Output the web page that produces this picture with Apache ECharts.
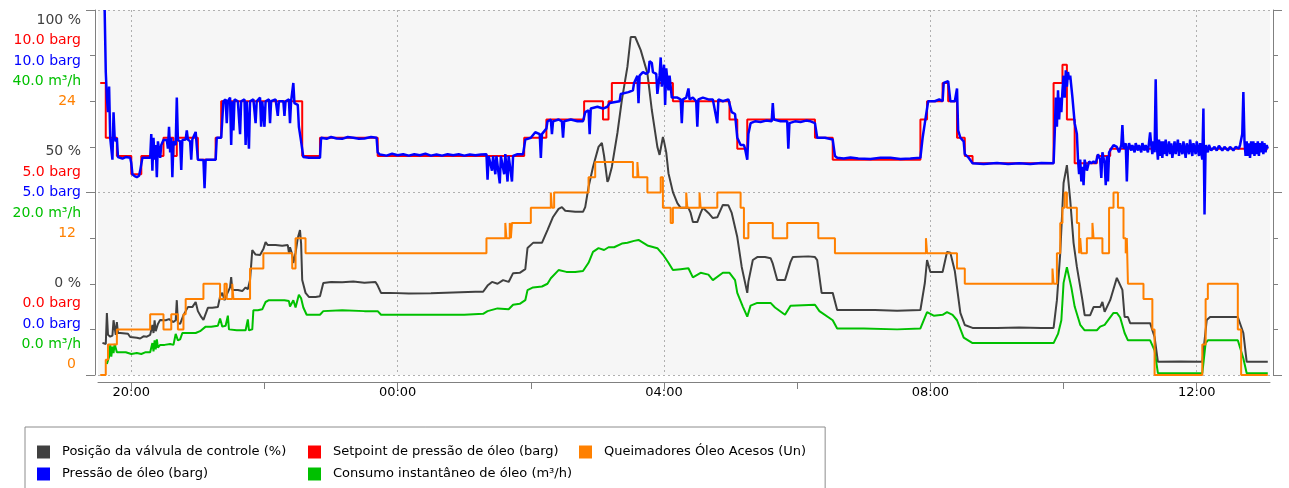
<!DOCTYPE html>
<html>
<head>
<meta charset="utf-8">
<script src="https://cdn.jsdelivr.net/npm/echarts@6/dist/echarts.min.js"></script>
<style>
  html, body { margin: 0; padding: 0; background: #ffffff; }
  #chart { width: 1289px; height: 488px; }
</style>
</head>
<body>
<div id="chart"></div>
<script>
// ---- Series names ----
const nameValve = 'Posição da válvula de controle (%)';
const nameSetpoint = 'Setpoint de pressão de óleo (barg)';
const nameBurners = 'Queimadores Óleo Acesos (Un)';
const namePressure = 'Pressão de óleo (barg)';
const nameFlow = 'Consumo instantâneo de óleo (m³/h)';

// ---- Scales of the five stacked value axes (valve, setpoint, pressure, flow, burners) ----
const scaleMax = [100, 10, 10, 40, 24];
const scaleUnit = [' %', ' barg', ' barg', ' m³/h', ''];
const scaleDigits = [0, 1, 1, 1, 0];

// ---- Time axis ----
const timeStart = '19:30';
const timeEnd = '13:06';
const timeLabels = ['20:00', '00:00', '04:00', '08:00', '12:00'];
const timeTicks = ['20:00', '22:00', '00:00', '02:00', '04:00', '06:00', '08:00', '10:00', '12:00'];

// ---- Posição da válvula de controle (%) ----
const valvePosition = [
  ['19:34', 8.8], ['19:37', 8.5], ['19:38', 17.0], ['19:39', 11.0], ['19:41', 10.5], ['19:43', 10.8],
  ['19:44', 15.0], ['19:46', 11.0], ['19:47', 14.5], ['19:48', 11.5], ['19:50', 11.5], ['19:57', 11.3],
  ['19:59', 10.4], ['20:05', 10.2], ['20:08', 10.0], ['20:11', 10.6], ['20:14', 10.5], ['20:17', 11.0],
  ['20:19', 13.7], ['20:20', 11.5], ['20:21', 15.0], ['20:22', 12.0], ['20:24', 14.0], ['20:26', 15.1],
  ['20:31', 15.0], ['20:34', 15.3], ['20:38', 14.5], ['20:40', 15.0], ['20:41', 20.5], ['20:42', 14.2],
  ['20:44', 14.0], ['20:47', 16.4], ['20:51', 18.6], ['20:55', 18.6], ['20:58', 20.0], ['21:00', 17.5],
  ['21:03', 15.9], ['21:05', 15.1], ['21:09', 18.4], ['21:13', 18.4], ['21:18', 18.6], ['21:20', 21.5],
  ['21:22', 22.5], ['21:24', 20.5], ['21:26', 22.0], ['21:29', 24.0], ['21:30', 26.8], ['21:31', 23.3],
  ['21:36', 23.3], ['21:40', 23.0], ['21:43', 24.0], ['21:45', 23.5], ['21:47', 26.0], ['21:49', 34.2],
  ['21:52', 33.0], ['21:56', 32.9], ['21:59', 34.5], ['22:01', 36.4], ['22:03', 35.6], ['22:10', 35.6],
  ['22:16', 35.4], ['22:21', 35.6], ['22:22', 33.5], ['22:23', 35.0], ['22:25', 33.0], ['22:26', 30.7],
  ['22:28', 33.5], ['22:30', 37.5], ['22:32', 39.7], ['22:33', 36.0], ['22:34', 26.0], ['22:37', 22.5],
  ['22:40', 21.4], ['22:46', 21.4], ['22:50', 21.6], ['22:53', 25.2], ['23:00', 25.5], ['23:10', 25.4],
  ['23:20', 25.6], ['23:30', 25.3], ['23:40', 25.5], ['23:42', 24.5], ['23:45', 22.5], ['23:53', 22.5],
  ['00:10', 22.3], ['00:30', 22.4], ['00:50', 22.6], ['01:10', 22.8], ['01:17', 22.8], ['01:21', 24.5],
  ['01:25', 25.5], ['01:30', 25.0], ['01:35', 26.0], ['01:40', 25.5], ['01:44', 27.9], ['01:50', 28.0],
  ['01:55', 29.0], ['01:57', 34.8], ['02:02', 36.2], ['02:10', 36.2], ['02:14', 39.0], ['02:15', 39.7],
  ['02:20', 43.3], ['02:25', 45.5], ['02:28', 46.0], ['02:31', 45.0], ['02:40', 44.7], ['02:47', 44.7],
  ['02:49', 46.0], ['02:52', 51.5], ['02:56', 57.0], ['03:01', 62.5], ['03:04', 63.6], ['03:06', 60.0],
  ['03:09', 52.9], ['03:10', 53.5], ['03:13', 57.0], ['03:18', 66.3], ['03:22', 75.3], ['03:27', 84.4],
  ['03:30', 92.6], ['03:34', 92.6], ['03:39', 89.0], ['03:45', 82.7], ['03:49', 72.6], ['03:54', 62.5],
  ['03:56', 60.3], ['03:59', 65.2], ['04:00', 64.0], ['04:02', 61.0], ['04:04', 55.3], ['04:08', 50.1],
  ['04:12', 47.1], ['04:15', 45.8], ['04:19', 45.8], ['04:22', 45.8], ['04:24', 44.4], ['04:26', 41.9],
  ['04:30', 41.9], ['04:33', 44.4], ['04:35', 45.8], ['04:40', 44.4], ['04:44', 43.0], ['04:48', 43.2],
  ['04:53', 46.6], ['04:58', 46.5], ['05:01', 44.4], ['05:06', 37.8], ['05:10', 29.6], ['05:15', 22.5],
  ['05:16', 25.5], ['05:20', 31.5], ['05:24', 32.3], ['05:31', 32.3], ['05:36', 32.0], ['05:38', 30.5],
  ['05:42', 26.0], ['05:49', 26.0], ['05:54', 31.0], ['05:56', 32.3], ['06:10', 32.5], ['06:16', 32.3],
  ['06:18', 31.5], ['06:22', 22.5], ['06:32', 22.5], ['06:36', 17.8], ['06:50', 17.8], ['07:10', 17.8],
  ['07:30', 17.6], ['07:51', 17.8], ['07:55', 25.2], ['07:57', 31.5], ['08:00', 28.2], ['08:11', 28.2],
  ['08:15', 33.7], ['08:18', 33.5], ['08:22', 28.5], ['08:27', 17.0], ['08:31', 13.7], ['08:38', 12.9],
  ['09:00', 12.9], ['09:20', 13.0], ['09:40', 12.9], ['09:51', 12.9], ['09:54', 20.5], ['09:57', 33.4],
  ['10:00', 52.6], ['10:03', 57.5], ['10:06', 47.9], ['10:09', 36.2], ['10:12', 29.6], ['10:17', 20.5],
  ['10:19', 16.4], ['10:24', 16.4], ['10:27', 18.6], ['10:33', 18.6], ['10:35', 20.0], ['10:37', 17.3],
  ['10:42', 20.5], ['10:48', 26.6], ['10:53', 23.3], ['10:55', 15.9], ['10:58', 15.9], ['11:00', 14.2],
  ['11:18', 14.2], ['11:22', 10.4], ['11:25', 3.6], ['11:45', 3.7], ['12:05', 3.6], ['12:09', 15.1],
  ['12:12', 15.9], ['12:37', 15.9], ['12:42', 11.5], ['12:45', 3.6], ['13:04', 3.6]
];

// ---- Setpoint de pressão de óleo (barg), stepwise ----
const pressureSetpoint = [
  ['19:32', 8.0], ['19:37', 6.5], ['19:47', 6.0], ['20:00', 5.5], ['20:09', 6.0], ['20:29', 6.5],
  ['20:38', 6.0], ['20:41', 6.5], ['21:00', 5.9], ['21:16', 6.5], ['21:21', 7.5], ['22:34', 6.0],
  ['22:50', 6.5], ['23:42', 6.0], ['01:54', 6.5], ['02:14', 7.0], ['02:48', 7.5], ['03:05', 7.0],
  ['03:10', 7.5], ['03:13', 8.0], ['04:08', 7.5], ['04:59', 7.0], ['05:06', 6.2], ['05:15', 7.0],
  ['06:16', 6.5], ['06:32', 5.9], ['07:51', 7.0], ['07:57', 7.5], ['08:11', 8.0], ['08:16', 7.5],
  ['08:24', 6.5], ['08:31', 6.0], ['08:38', 5.8], ['09:51', 8.0], ['09:59', 8.5], ['10:03', 7.0],
  ['10:10', 5.8], ['10:30', 6.0], ['10:42', 6.2], ['13:04', 6.2]
];

// ---- Pressão de óleo (barg) ----
const oilPressure = [
  ['19:36', 10.0], ['19:37', 8.3], ['19:38', 7.6], ['19:39', 7.2], ['19:40', 7.9], ['19:41', 6.5],
  ['19:42', 6.5], ['19:43', 5.9], ['19:44', 7.2], ['19:45', 6.5], ['19:46', 6.4], ['19:47', 6.5],
  ['19:48', 5.97], ['19:52', 5.93], ['19:55', 5.97], ['19:59', 5.95], ['20:00', 5.8], ['20:01', 5.5],
  ['20:03', 5.45], ['20:05', 5.42], ['20:07', 5.46], ['20:08', 5.6], ['20:10', 5.95], ['20:17', 5.95],
  ['20:18', 6.6], ['20:19', 5.6], ['20:20', 6.5], ['20:21', 5.9], ['20:22', 6.3], ['20:23', 5.42],
  ['20:24', 6.4], ['20:26', 5.95], ['20:27', 6.3], ['20:29', 6.44], ['20:32', 6.44], ['20:33', 6.2],
  ['20:34', 6.8], ['20:35', 6.1], ['20:36', 6.5], ['20:37', 5.42], ['20:38', 6.4], ['20:40', 6.3],
  ['20:41', 7.6], ['20:42', 6.44], ['20:44', 6.4], ['20:45', 5.62], ['20:46', 6.44], ['20:49', 6.45],
  ['20:50', 6.7], ['20:51', 6.45], ['20:53', 6.4], ['20:54', 5.9], ['20:55', 6.45], ['20:58', 6.66],
  ['21:00', 5.9], ['21:05', 5.89], ['21:06', 5.12], ['21:07', 5.9], ['21:16', 5.9], ['21:17', 6.5],
  ['21:21', 6.5], ['21:22', 7.0], ['21:23', 7.5], ['21:25', 7.55], ['21:26', 6.9], ['21:27', 7.5],
  ['21:29', 7.6], ['21:30', 6.3], ['21:31', 7.5], ['21:32', 6.7], ['21:33', 7.55], ['21:36', 7.5],
  ['21:38', 6.6], ['21:39', 7.5], ['21:42', 7.55], ['21:43', 6.3], ['21:44', 7.5], ['21:46', 6.2],
  ['21:47', 7.5], ['21:50', 7.55], ['21:52', 6.9], ['21:53', 7.5], ['21:56', 7.6], ['21:57', 6.8],
  ['21:58', 7.5], ['22:00', 6.8], ['22:01', 7.5], ['22:04', 7.55], ['22:05', 6.9], ['22:06', 7.5],
  ['22:10', 7.55], ['22:12', 7.1], ['22:13', 7.5], ['22:17', 7.5], ['22:18', 7.1], ['22:19', 7.5],
  ['22:22', 7.55], ['22:23', 6.9], ['22:24', 7.5], ['22:25', 7.55], ['22:26', 8.0], ['22:27', 7.45],
  ['22:30', 7.4], ['22:31', 6.8], ['22:33', 6.4], ['22:35', 5.97], ['22:40', 5.95], ['22:50', 5.95],
  ['22:51', 6.5], ['22:56', 6.47], ['23:00', 6.52], ['23:05', 6.48], ['23:10', 6.47], ['23:15', 6.52],
  ['23:20', 6.5], ['23:25', 6.47], ['23:30', 6.48], ['23:36', 6.52], ['23:41', 6.5], ['23:42', 6.1],
  ['23:44', 6.04], ['23:50', 6.01], ['23:55', 6.06], ['00:00', 6.02], ['00:05', 6.05], ['00:10', 6.01],
  ['00:15', 6.05], ['00:20', 6.02], ['00:25', 6.06], ['00:30', 6.01], ['00:35', 6.04], ['00:40', 6.01],
  ['00:45', 6.05], ['00:50', 6.02], ['00:55', 6.05], ['01:00', 6.01], ['01:05', 6.04], ['01:10', 6.02],
  ['01:15', 6.04], ['01:20', 6.05], ['01:21', 5.35], ['01:22', 6.0], ['01:25', 5.6], ['01:26', 6.0],
  ['01:28', 5.5], ['01:29', 6.0], ['01:32', 5.25], ['01:33', 6.0], ['01:36', 5.5], ['01:37', 6.05],
  ['01:39', 5.3], ['01:40', 6.0], ['01:43', 5.3], ['01:44', 6.0], ['01:48', 6.05], ['01:53', 6.05],
  ['01:55', 6.45], ['02:00', 6.5], ['02:04', 6.65], ['02:08', 6.6], ['02:09', 5.95], ['02:10', 6.6],
  ['02:14', 6.75], ['02:15', 6.95], ['02:18', 7.0], ['02:19', 6.6], ['02:20', 6.95], ['02:25', 7.0],
  ['02:28', 6.95], ['02:29', 6.5], ['02:30', 6.95], ['02:36', 7.0], ['02:42', 6.95], ['02:47', 6.95],
  ['02:49', 7.2], ['02:52', 7.25], ['02:53', 6.6], ['02:54', 7.3], ['03:00', 7.35], ['03:05', 7.3],
  ['03:09', 7.35], ['03:11', 7.45], ['03:20', 7.5], ['03:21', 7.7], ['03:28', 7.75], ['03:32', 7.8],
  ['03:33', 8.0], ['03:36', 8.2], ['03:37', 7.45], ['03:38', 8.2], ['03:41', 8.3], ['03:44', 8.25],
  ['03:46', 8.3], ['03:47', 8.6], ['03:49', 8.55], ['03:50', 8.3], ['03:53', 8.25], ['03:54', 7.7],
  ['03:56', 8.2], ['03:57', 8.7], ['03:58', 7.9], ['04:00', 8.5], ['04:01', 7.4], ['04:02', 8.4],
  ['04:04', 7.8], ['04:05', 8.2], ['04:07', 7.6], ['04:08', 7.6], ['04:12', 7.6], ['04:15', 7.55],
  ['04:16', 6.9], ['04:17', 7.55], ['04:20', 7.6], ['04:22', 7.85], ['04:23', 7.55], ['04:26', 7.6],
  ['04:29', 7.5], ['04:30', 6.8], ['04:31', 7.55], ['04:35', 7.6], ['04:40', 7.55], ['04:44', 7.55],
  ['04:48', 6.9], ['04:49', 7.55], ['04:53', 7.5], ['04:58', 7.55], ['05:01', 7.2], ['05:04', 7.15],
  ['05:06', 6.5], ['05:09', 6.3], ['05:12', 6.3], ['05:13', 6.2], ['05:15', 5.9], ['05:16', 6.6],
  ['05:18', 6.9], ['05:22', 6.95], ['05:27', 6.93], ['05:32', 6.97], ['05:37', 6.95], ['05:38', 7.45],
  ['05:39', 7.0], ['05:45', 6.95], ['05:51', 6.95], ['05:52', 6.2], ['05:53', 6.9], ['05:58', 6.95],
  ['06:03', 6.93], ['06:08', 6.97], ['06:12', 6.95], ['06:16', 6.9], ['06:18', 6.5], ['06:25', 6.5],
  ['06:32', 6.45], ['06:34', 6.0], ['06:36', 5.95], ['06:42', 5.93], ['06:48', 5.96], ['06:55', 5.93],
  ['07:06', 5.92], ['07:15', 5.95], ['07:24', 5.95], ['07:33', 5.92], ['07:42', 5.93], ['07:51', 5.95],
  ['07:53', 6.5], ['07:55', 6.9], ['07:58', 7.5], ['08:04', 7.5], ['08:08', 7.55], ['08:11', 7.5],
  ['08:12', 8.0], ['08:16', 8.05], ['08:18', 7.5], ['08:22', 7.5], ['08:24', 7.85], ['08:25', 6.7],
  ['08:27', 6.5], ['08:30', 6.4], ['08:31', 6.05], ['08:34', 5.97], ['08:38', 5.8], ['08:48', 5.78],
  ['09:00', 5.81], ['09:10', 5.78], ['09:20', 5.8], ['09:30', 5.78], ['09:40', 5.81], ['09:51', 5.8],
  ['09:52', 6.6], ['09:53', 7.6], ['09:54', 6.8], ['09:55', 7.8], ['09:56', 7.0], ['09:57', 7.6],
  ['09:58', 7.2], ['09:59', 7.8], ['10:00', 8.2], ['10:01', 7.6], ['10:02', 8.35], ['10:03', 7.9],
  ['10:04', 8.3], ['10:05', 8.1], ['10:06', 8.2], ['10:08', 7.6], ['10:09', 7.25], ['10:10', 6.9],
  ['10:12', 6.6], ['10:13', 5.9], ['10:14', 5.5], ['10:15', 5.9], ['10:16', 5.3], ['10:17', 5.7],
  ['10:18', 5.2], ['10:19', 5.9], ['10:21', 5.6], ['10:23', 5.85], ['10:25', 5.8], ['10:27', 5.85],
  ['10:29', 5.8], ['10:31', 6.05], ['10:33', 5.9], ['10:34', 5.4], ['10:35', 6.1], ['10:37', 5.8],
  ['10:38', 5.2], ['10:39', 6.0], ['10:40', 5.3], ['10:41', 6.1], ['10:43', 6.2], ['10:45', 6.3],
  ['10:48', 6.25], ['10:50', 6.1], ['10:52', 6.3], ['10:53', 6.85], ['10:54', 6.2], ['10:56', 6.35],
  ['10:57', 5.3], ['10:58', 6.2], ['10:59', 6.35], ['11:01', 6.15], ['11:02', 6.3], ['11:04', 6.1],
  ['11:05', 6.35], ['11:07', 6.15], ['11:08', 6.3], ['11:10', 6.1], ['11:11', 6.35], ['11:13', 6.15],
  ['11:14', 6.3], ['11:16', 6.1], ['11:18', 6.65], ['11:19', 6.3], ['11:20', 6.05], ['11:21', 6.4],
  ['11:22', 6.1], ['11:23', 8.1], ['11:24', 6.3], ['11:25', 5.9], ['11:26', 6.45], ['11:27', 6.0],
  ['11:28', 6.4], ['11:29', 5.95], ['11:30', 6.4], ['11:31', 6.05], ['11:32', 6.45], ['11:33', 6.0],
  ['11:35', 6.4], ['11:36', 6.05], ['11:37', 6.35], ['11:38', 5.95], ['11:40', 6.4], ['11:41', 6.05],
  ['11:43', 6.45], ['11:44', 6.0], ['11:45', 6.35], ['11:47', 6.05], ['11:48', 6.4], ['11:50', 5.95],
  ['11:51', 6.35], ['11:53', 6.05], ['11:54', 6.45], ['11:56', 6.0], ['11:57', 6.35], ['11:59', 6.05],
  ['12:00', 6.4], ['12:02', 6.0], ['12:03', 6.35], ['12:04', 6.1], ['12:05', 5.9], ['12:06', 7.3],
  ['12:07', 4.4], ['12:08', 6.3], ['12:10', 6.1], ['12:11', 6.3], ['12:13', 6.15], ['12:16', 6.25],
  ['12:18', 6.15], ['12:20', 6.28], ['12:23', 6.15], ['12:25', 6.25], ['12:28', 6.15], ['12:30', 6.25],
  ['12:33', 6.15], ['12:35', 6.25], ['12:38', 6.2], ['12:39', 6.3], ['12:41', 6.6], ['12:42', 7.75],
  ['12:43', 6.4], ['12:44', 6.0], ['12:45', 6.4], ['12:46', 6.0], ['12:47', 6.35], ['12:48', 5.95],
  ['12:49', 6.4], ['12:50', 6.05], ['12:51', 6.4], ['12:52', 6.0], ['12:53', 6.35], ['12:54', 6.05],
  ['12:55', 6.4], ['12:56', 6.0], ['12:57', 6.35], ['12:58', 6.1], ['12:59', 6.4], ['13:00', 6.05],
  ['13:01', 6.35], ['13:02', 6.1], ['13:03', 6.3], ['13:04', 6.2]
];

// ---- Consumo instantâneo de óleo (m³/h) ----
const oilFlow = [
  ['19:38', 1.2], ['19:40', 2.0], ['19:41', 3.3], ['19:42', 2.0], ['19:43', 3.1], ['19:44', 2.4],
  ['19:45', 3.4], ['19:47', 2.5], ['19:50', 2.5], ['19:55', 2.5], ['20:00', 2.3], ['20:05', 2.4],
  ['20:09', 2.3], ['20:13', 2.5], ['20:17', 2.5], ['20:19', 3.5], ['20:20', 2.6], ['20:21', 3.8],
  ['20:22', 2.8], ['20:23', 3.9], ['20:24', 3.0], ['20:26', 3.3], ['20:30', 3.3], ['20:35', 3.4],
  ['20:38', 3.3], ['20:40', 4.5], ['20:41', 4.7], ['20:42', 3.8], ['20:44', 3.9], ['20:46', 4.6],
  ['20:52', 4.6], ['20:58', 4.6], ['21:02', 4.8], ['21:07', 5.3], ['21:12', 5.3], ['21:18', 5.4],
  ['21:20', 6.2], ['21:22', 5.3], ['21:25', 5.4], ['21:27', 6.5], ['21:28', 5.0], ['21:35', 4.9],
  ['21:43', 4.9], ['21:45', 6.1], ['21:46', 4.9], ['21:49', 5.0], ['21:50', 7.1], ['21:54', 7.1],
  ['21:58', 7.2], ['22:01', 8.0], ['22:04', 8.2], ['22:10', 8.2], ['22:18', 8.2], ['22:22', 8.1],
  ['22:23', 7.5], ['22:26', 8.2], ['22:28', 7.4], ['22:31', 8.8], ['22:33', 8.4], ['22:35', 7.4],
  ['22:38', 6.6], ['22:46', 6.6], ['22:50', 6.6], ['22:53', 7.0], ['23:10', 7.1], ['23:30', 7.0],
  ['23:42', 7.0], ['23:45', 6.6], ['00:00', 6.6], ['00:30', 6.6], ['01:00', 6.6], ['01:17', 6.7],
  ['01:21', 7.0], ['01:30', 7.3], ['01:40', 7.2], ['01:44', 7.7], ['01:50', 7.8], ['01:55', 8.2],
  ['01:57', 9.3], ['02:02', 9.6], ['02:10', 9.7], ['02:15', 10.0], ['02:18', 10.6], ['02:25', 11.5],
  ['02:32', 11.3], ['02:40', 11.3], ['02:47', 11.4], ['02:52', 12.3], ['02:56', 13.5], ['03:01', 13.9],
  ['03:06', 13.7], ['03:10', 14.0], ['03:15', 14.0], ['03:22', 14.4], ['03:27', 14.5], ['03:33', 14.7],
  ['03:37', 14.8], ['03:45', 14.2], ['03:54', 13.9], ['03:59', 13.2], ['04:04', 12.3], ['04:08', 11.5],
  ['04:15', 11.6], ['04:22', 11.7], ['04:26', 10.7], ['04:33', 11.2], ['04:40', 11.0], ['04:44', 10.4],
  ['04:53', 11.2], ['04:59', 11.2], ['05:04', 10.4], ['05:06', 9.0], ['05:11', 7.5], ['05:15', 6.4],
  ['05:18', 7.6], ['05:24', 7.9], ['05:36', 7.9], ['05:40', 7.4], ['05:49', 6.6], ['05:54', 7.6],
  ['06:16', 7.7], ['06:20', 7.0], ['06:32', 6.0], ['06:36', 5.1], ['07:00', 5.1], ['07:30', 5.0],
  ['07:51', 5.1], ['07:57', 6.9], ['08:03', 6.5], ['08:11', 6.6], ['08:15', 6.9], ['08:20', 6.6],
  ['08:24', 6.0], ['08:30', 4.1], ['08:38', 3.5], ['09:00', 3.5], ['09:30', 3.5], ['09:51', 3.5],
  ['09:55', 4.5], ['09:58', 6.0], ['10:00', 10.1], ['10:03', 11.8], ['10:07', 9.6], ['10:10', 7.5],
  ['10:15', 5.5], ['10:19', 4.9], ['10:30', 4.9], ['10:33', 5.3], ['10:37', 5.5], ['10:45', 6.8],
  ['10:48', 6.8], ['10:51', 6.3], ['10:55', 4.6], ['10:58', 3.8], ['11:18', 3.8], ['11:22', 2.7],
  ['11:25', 0.2], ['12:05', 0.2], ['12:08', 3.5], ['12:10', 3.8], ['12:37', 3.8], ['12:42', 1.8],
  ['12:45', 0.2], ['13:04', 0.2]
];

// ---- Queimadores Óleo Acesos (Un), stepwise ----
const burnersOn = [
  ['19:32', 0], ['19:37', 1], ['19:39', 2], ['19:47', 3], ['20:17', 4], ['20:29', 3], ['20:36', 4],
  ['20:42', 3], ['20:47', 4], ['20:49', 5], ['21:05', 6], ['21:20', 5], ['21:24', 6], ['21:26', 5],
  ['21:31', 6], ['21:32', 5], ['21:47', 7], ['21:59', 8], ['22:25', 7], ['22:28', 9], ['22:37', 8],
  ['01:20', 9], ['01:37', 10], ['01:38', 9], ['01:41', 10], ['01:42', 9], ['01:43', 10], ['02:00', 11],
  ['02:18', 12], ['02:19', 11], ['02:21', 12], ['02:52', 13], ['02:58', 14], ['03:32', 13], ['03:36', 14],
  ['03:37', 13], ['03:45', 12], ['03:57', 13], ['03:59', 11], ['04:06', 10], ['04:08', 11], ['04:20', 12],
  ['04:21', 11], ['04:32', 12], ['04:33', 11], ['04:48', 12], ['05:09', 11], ['05:12', 9], ['05:16', 10],
  ['05:38', 9], ['05:51', 10], ['06:19', 9], ['06:34', 8], ['07:56', 9], ['07:57', 8], ['08:24', 7],
  ['08:31', 6], ['09:50', 7], ['09:51', 6], ['09:54', 8], ['09:57', 10], ['09:59', 11], ['10:01', 12],
  ['10:03', 11], ['10:12', 10], ['10:14', 8], ['10:15', 9], ['10:16', 8], ['10:21', 9], ['10:26', 10],
  ['10:27', 9], ['10:35', 8], ['10:41', 11], ['10:45', 12], ['10:49', 11], ['10:54', 9], ['10:56', 8],
  ['10:57', 9], ['10:58', 6], ['11:12', 5], ['11:20', 3], ['11:22', 0], ['12:05', 2], ['12:08', 5],
  ['12:10', 6], ['12:37', 3], ['12:40', 0], ['13:04', 0]
];

// ---- Helpers ----
// Clock time "HH:MM" to hours on a continuous scale (times after midnight continue past 24).
function toHours(t) {
  const parts = t.split(':').map(Number);
  const v = parts[0] + parts[1] / 60;
  return v < 19 ? v + 24 : v;
}
const toPoints = arr => arr.map(p => [toHours(p[0]), p[1]]);
const pad2 = n => (n < 10 ? '0' : '') + n;

const FONT = 'DejaVu Sans';
const C_GRAY = '#404040', C_RED = '#ff0000', C_BLUE = '#0000ff', C_GREEN = '#00c000', C_ORANGE = '#ff8000';
const scaleColors = [C_GRAY, C_RED, C_BLUE, C_GREEN, C_ORANGE];
const AXIS_COLOR = '#808080';
const GRID_LINE = { show: true, lineStyle: { color: '#b0b0b0', width: 1, type: [2, 3] } };

const rich = {};
scaleColors.forEach((c, i) => {
  rich['s' + i] = {
    color: c, fontFamily: FONT, fontSize: 14, lineHeight: 20.4, align: 'right',
    padding: i === 4 ? [0, 5, 0, 0] : 0
  };
});

// One stacked label per tick: the same relative position read on every scale.
function stackedLabel(value) {
  const frac = value / scaleMax[0];
  return scaleMax.map((mx, i) =>
    '{s' + i + '|' + (frac * mx).toFixed(scaleDigits[i]) + scaleUnit[i] + '}'
  ).join('\n');
}

const xMin = toHours(timeStart), xMax = toHours(timeEnd);

const chart = echarts.init(document.getElementById('chart'), null, { renderer: 'canvas' });

function lineSeries(name, data, yIndex, color, step, z, width) {
  return {
    name: name, type: 'line', data: toPoints(data), xAxisIndex: 0, yAxisIndex: yIndex,
    step: step || false, showSymbol: false, symbol: 'none', silent: true, z: z,
    lineStyle: { color: color, width: width || 2 }, itemStyle: { color: color },
    emphasis: { disabled: true }, animation: false
  };
}

const legendWide = { width: 246 };

chart.setOption({
  backgroundColor: '#ffffff',
  animation: false,
  grid: {
    left: 98, right: 19, top: 10, bottom: 113,
    show: true, backgroundColor: '#f6f6f6', borderWidth: 0
  },
  legend: {
    left: 25, top: 427, width: 790,
    orient: 'horizontal',
    padding: [14, 19, 12, 12],
    itemGap: 0, itemWidth: 13, itemHeight: 13,
    icon: 'rect',
    borderColor: '#8c8c8c', borderWidth: 1,
    selectedMode: false,
    textStyle: { fontFamily: FONT, fontSize: 13, color: '#000000', lineHeight: 22, padding: [0, 0, 0, 7] },
    data: [
      { name: nameValve, textStyle: legendWide },
      { name: nameSetpoint, textStyle: legendWide },
      { name: nameBurners },
      { name: namePressure, textStyle: legendWide },
      { name: nameFlow, textStyle: legendWide }
    ]
  },
  xAxis: [
    {
      type: 'value', min: xMin, max: xMax, position: 'bottom', offset: 7,
      axisLine: { show: true, onZero: false, lineStyle: { color: AXIS_COLOR } },
      axisTick: { show: true, length: 7, customValues: timeLabels.map(toHours), lineStyle: { color: AXIS_COLOR } },
      axisLabel: {
        customValues: timeLabels.map(toHours),
        formatter: v => pad2(Math.round(v) % 24) + ':00',
        color: '#000000', fontFamily: FONT, fontSize: 13, margin: 4
      },
      splitLine: GRID_LINE
    },
    {
      type: 'value', min: xMin, max: xMax, position: 'bottom', offset: 7,
      axisLine: { show: false, onZero: false },
      axisTick: { show: true, length: 7, customValues: timeTicks.map(toHours), lineStyle: { color: AXIS_COLOR } },
      axisLabel: { show: false },
      splitLine: { show: false }
    }
  ],
  yAxis: [
    {
      type: 'value', min: 0, max: scaleMax[0], interval: scaleMax[0] / 2, position: 'left', offset: 3,
      axisLine: { show: true, onZero: false, lineStyle: { color: AXIS_COLOR } },
      axisTick: { show: true, length: 9, lineStyle: { color: AXIS_COLOR } },
      minorTick: { show: true, splitNumber: 4, length: 5, lineStyle: { color: AXIS_COLOR } },
      minorSplitLine: { show: false },
      splitLine: GRID_LINE,
      axisLabel: {
        margin: 14, formatter: stackedLabel, rich: rich,
        fontFamily: FONT, fontSize: 14, lineHeight: 20.4,
        verticalAlign: 'middle', verticalAlignMinLabel: 'bottom', verticalAlignMaxLabel: 'top'
      }
    },
    { type: 'value', min: 0, max: scaleMax[1], show: false },
    { type: 'value', min: 0, max: scaleMax[2], show: false },
    { type: 'value', min: 0, max: scaleMax[3], show: false },
    { type: 'value', min: 0, max: scaleMax[4], show: false },
    {
      type: 'value', min: 0, max: scaleMax[0], interval: scaleMax[0] / 2, position: 'right', offset: 3,
      axisLine: { show: true, onZero: false, lineStyle: { color: AXIS_COLOR } },
      axisTick: { show: true, length: 9, lineStyle: { color: AXIS_COLOR } },
      minorTick: { show: true, splitNumber: 4, length: 5, lineStyle: { color: AXIS_COLOR } },
      splitLine: { show: false },
      axisLabel: { show: false }
    }
  ],
  series: [
    lineSeries(nameValve, valvePosition, 0, C_GRAY, false, 2, 2),
    lineSeries(nameSetpoint, pressureSetpoint, 1, C_RED, 'end', 3, 2),
    lineSeries(namePressure, oilPressure, 2, C_BLUE, false, 4, 2.5),
    lineSeries(nameFlow, oilFlow, 3, C_GREEN, false, 5, 2),
    lineSeries(nameBurners, burnersOn, 4, C_ORANGE, 'end', 6, 2)
  ]
});
</script>
</body>
</html>
